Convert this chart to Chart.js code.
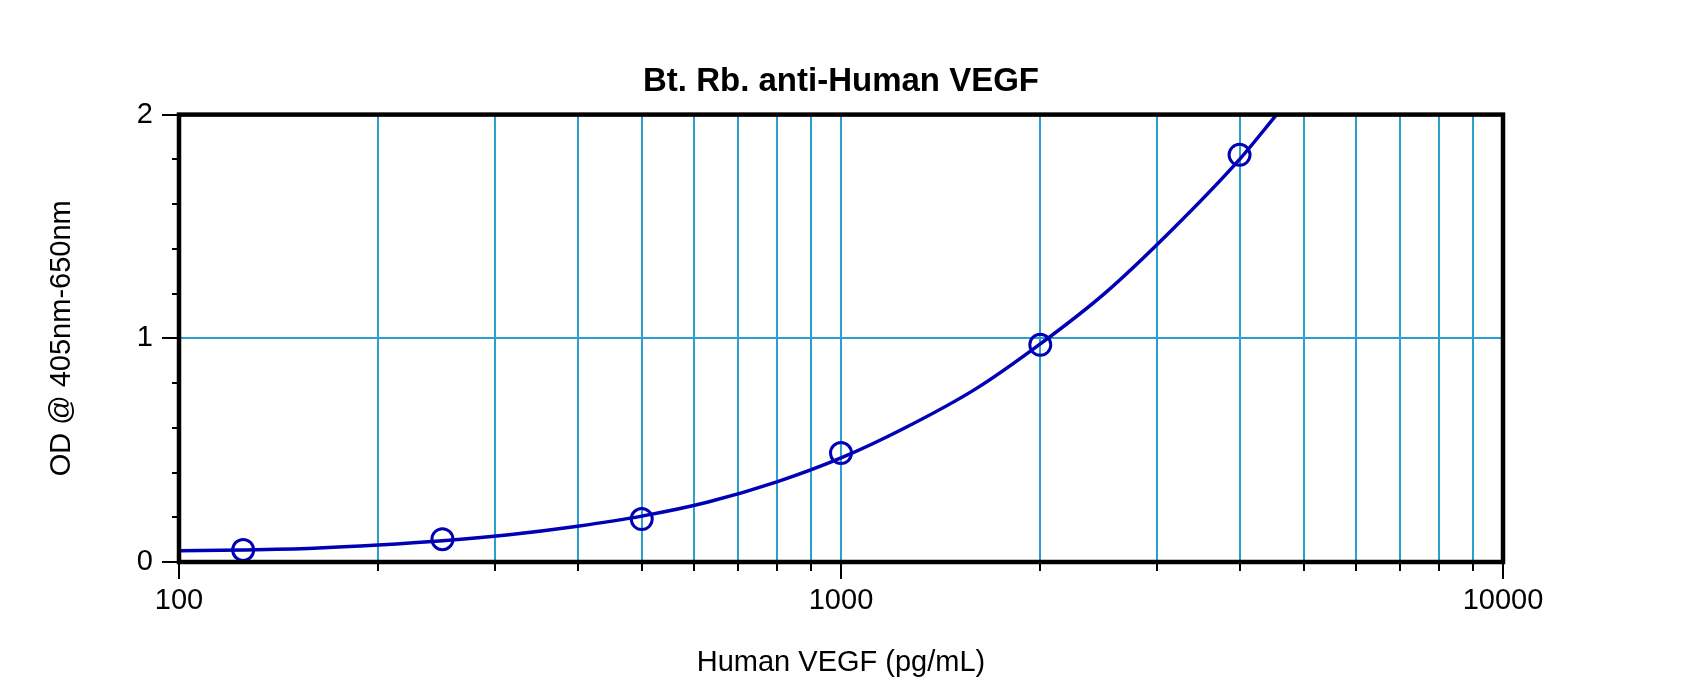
<!DOCTYPE html>
<html>
<head>
<meta charset="utf-8">
<script src="https://cdn.jsdelivr.net/npm/chart.js@4/dist/chart.umd.min.js"></script>
<style>
  html, body { margin: 0; padding: 0; background: #fff; }
  canvas { display: block; }
</style>
</head>
<body>
<canvas id="c" width="1700" height="696"></canvas>
<script>
// standards (pg/mL) and measured OD
const standardDose = [125, 250, 500, 1000, 2000, 4000];
const standardOD = [0.054, 0.102, 0.192, 0.487, 0.971, 1.82];

// fitted curve at roughly even log steps
const curveDose = [100, 125, 160, 200, 250, 315, 400, 500, 630, 800, 1000, 1250, 1600, 2000, 2500, 3150, 4000, 4550];
const curveOD = [0.05, 0.054, 0.062, 0.076, 0.095, 0.122, 0.16, 0.205, 0.268, 0.358, 0.465, 0.6, 0.775, 0.975, 1.2, 1.48, 1.8, 2.0];

// x grid/tick positions, and which of them carry a label
const xTickValues = [100, 200, 300, 400, 500, 600, 700, 800, 900, 1000,
  2000, 3000, 4000, 5000, 6000, 7000, 8000, 9000, 10000];
const xTickLabels = [100, 1000, 10000];
const yTickLabels = [0, 1, 2];

const FONT = "Arial, 'Liberation Sans', sans-serif";
const GRID = '#2aa0d2';
const BLUE = '#0000b4';

const pairs = (xs, ys) => xs.map((x, i) => ({ x: x, y: ys[i] }));

// frame and outward tick marks (long for labelled, short for the rest)
const frameTicks = {
  id: 'frameTicks',
  afterDraw(chart) {
    const { ctx, chartArea: a } = chart;
    const xs = chart.scales.x, ys = chart.scales.y;
    ctx.save();
    ctx.strokeStyle = '#000';
    ctx.lineWidth = 2;
    ys.ticks.forEach(t => {
      const y = Math.round(ys.getPixelForValue(t.value));
      const major = yTickLabels.some(v => Math.abs(v - t.value) < 1e-6);
      ctx.beginPath();
      ctx.moveTo(a.left - (major ? 17 : 7), y);
      ctx.lineTo(a.left, y);
      ctx.stroke();
    });
    xs.ticks.forEach(t => {
      const x = Math.round(xs.getPixelForValue(t.value));
      const major = xTickLabels.includes(t.value);
      ctx.beginPath();
      ctx.moveTo(x, a.bottom);
      ctx.lineTo(x, a.bottom + (major ? 17 : 9));
      ctx.stroke();
    });
    ctx.lineWidth = 4.5;
    ctx.strokeRect(a.left, a.top, a.right - a.left, a.bottom - a.top);
    ctx.restore();
  }
};

new Chart(document.getElementById('c'), {
  data: {
    datasets: [{
      type: 'line',
      label: 'fit',
      data: pairs(curveDose, curveOD),
      borderColor: BLUE,
      borderWidth: 3.5,
      pointRadius: 0,
      cubicInterpolationMode: 'monotone',
      fill: false
    }, {
      type: 'scatter',
      label: 'standards',
      data: pairs(standardDose, standardOD),
      borderColor: BLUE,
      backgroundColor: 'rgba(0,0,0,0)',
      borderWidth: 3,
      pointRadius: 10.5,
      pointHoverRadius: 10.5
    }]
  },
  options: {
    responsive: false,
    devicePixelRatio: 1,
    animation: false,
    events: [],
    layout: { padding: { left: 0, right: 197, top: 0, bottom: 0 } },
    plugins: {
      legend: { display: false },
      tooltip: { enabled: false },
      title: {
        display: true,
        fullSize: false,
        text: 'Bt. Rb. anti-Human VEGF',
        color: '#000',
        font: { family: FONT, size: 33, weight: 'bold', lineHeight: 1.2 },
        padding: { top: 62, bottom: 13 }
      }
    },
    scales: {
      x: {
        type: 'logarithmic',
        min: 100,
        max: 10000,
        border: { display: false },
        afterBuildTicks: s => { s.ticks = xTickValues.map(v => ({ value: v })); },
        grid: {
          drawTicks: false,
          lineWidth: 2,
          color: c => (c.tick && (c.tick.value === 100 || c.tick.value === 10000)) ? 'rgba(0,0,0,0)' : GRID
        },
        ticks: {
          autoSkip: false,
          maxRotation: 0,
          padding: 22,
          color: '#000',
          font: { family: FONT, size: 29 },
          callback: v => xTickLabels.includes(v) ? String(v) : ''
        },
        title: {
          display: true,
          text: 'Human VEGF (pg/mL)',
          color: '#000',
          font: { family: FONT, size: 29, lineHeight: 1.2 },
          padding: { top: 0, bottom: 16 }
        },
        afterFit: s => { s.height = 134; }
      },
      y: {
        type: 'linear',
        min: 0,
        max: 2,
        border: { display: false },
        grid: {
          drawTicks: false,
          lineWidth: 2,
          color: c => (c.tick && Math.abs(c.tick.value - 1) < 1e-6) ? GRID : 'rgba(0,0,0,0)'
        },
        ticks: {
          stepSize: 0.2,
          autoSkip: false,
          padding: 26,
          color: '#000',
          font: { family: FONT, size: 29 },
          callback: v => yTickLabels.some(t => Math.abs(t - v) < 1e-6) ? String(Math.round(v)) : ''
        },
        title: {
          display: true,
          text: 'OD @ 405nm-650nm',
          color: '#000',
          font: { family: FONT, size: 29, lineHeight: 1.2 },
          padding: { top: 45, bottom: 0 }
        },
        afterFit: s => { s.width = 179; }
      }
    }
  },
  plugins: [frameTicks]
});
</script>
</body>
</html>
